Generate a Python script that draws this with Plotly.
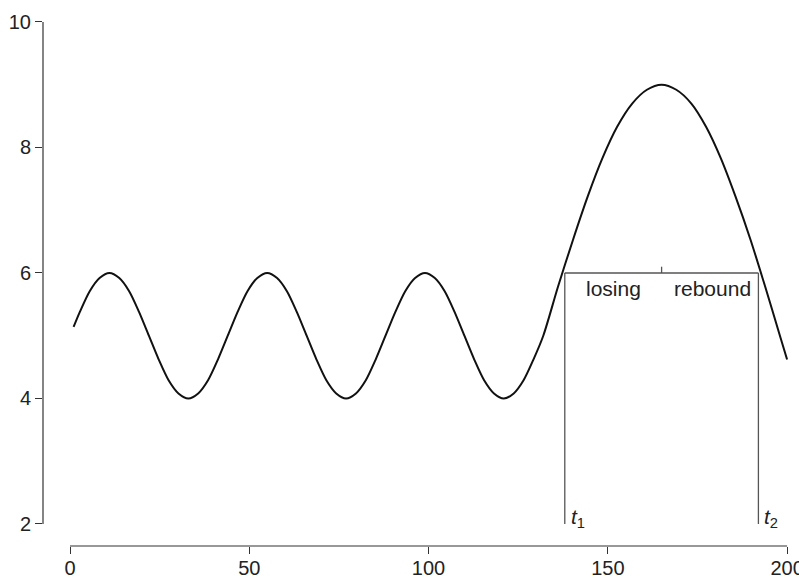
import plotly.graph_objects as go

# curve values
x_vals = [1, 2.75, 5.5, 8.25, 11, 13.75, 16.5, 19.25, 22, 24.75, 27.5, 30.25, 33, 35.75, 38.5, 41.25,
          44, 46.75, 49.5, 52.25, 55, 57.75, 60.5, 63.25, 66, 68.75, 71.5, 74.25, 77, 79.75, 82.5, 85.25,
          88, 90.75, 93.5, 96.25, 99, 101.75, 104.5, 107.25, 110, 112.75, 115.5, 118.25, 121, 123.75,
          126.5, 129.25, 132,
          136.1, 140.3, 144.4, 148.5, 152.6, 156.8, 160.9, 165, 169.1, 173.3, 177.4, 181.5, 185.6,
          189.8, 193.9, 198, 200]
y_vals = [5.14, 5.38, 5.71, 5.92, 6.00, 5.92, 5.71, 5.38, 5.00, 4.62, 4.29, 4.08, 4.00, 4.08, 4.29, 4.62,
          5.00, 5.38, 5.71, 5.92, 6.00, 5.92, 5.71, 5.38, 5.00, 4.62, 4.29, 4.08, 4.00, 4.08, 4.29, 4.62,
          5.00, 5.38, 5.71, 5.92, 6.00, 5.92, 5.71, 5.38, 5.00, 4.62, 4.29, 4.08, 4.00, 4.08,
          4.29, 4.62, 5.00,
          5.78, 6.53, 7.22, 7.83, 8.33, 8.70, 8.92, 9.00, 8.92, 8.70, 8.33, 7.83, 7.22,
          6.53, 5.78, 5.00, 4.62]

t1 = 138
t2 = 192
t_mid = 165
level = 6
y_base = 2
x_ticks = [0, 50, 100, 150, 200]
y_ticks = [2, 4, 6, 8, 10]

fig = go.Figure()
fig.add_trace(go.Scatter(x=x_vals, y=y_vals, mode="lines",
                         line=dict(color="#111111", width=2, shape="spline", smoothing=0.8),
                         showlegend=False, hoverinfo="skip"))

gray = "#555555"
# bracket
fig.add_shape(type="line", x0=t1, x1=t1, y0=y_base, y1=level, line=dict(color=gray, width=1.3))
fig.add_shape(type="line", x0=t2, x1=t2, y0=y_base, y1=level, line=dict(color=gray, width=1.3))
fig.add_shape(type="line", x0=t1, x1=t2, y0=level, y1=level, line=dict(color=gray, width=1.3))
fig.add_shape(type="line", x0=t_mid, x1=t_mid, y0=level, y1=level + 0.1, line=dict(color=gray, width=1.3))

# detached axes lines
fig.add_shape(type="line", xref="x", yref="paper", x0=x_ticks[0], x1=x_ticks[-1], y0=0, y1=0,
              line=dict(color="#333333", width=1.2))
fig.add_shape(type="line", xref="paper", yref="y", x0=0, x1=0, y0=y_ticks[0], y1=y_ticks[-1],
              line=dict(color="#333333", width=1.2))

font_txt = dict(family="Liberation Sans, Arial, sans-serif", size=21, color="#222222")
fig.add_annotation(x=(t1 + t_mid) / 2, y=5.75, text="losing", showarrow=False, font=font_txt)
fig.add_annotation(x=(t_mid + t2) / 2 + 0.8, y=5.75, text="rebound", showarrow=False, font=font_txt)
fig.add_annotation(x=t1, y=2.1, text="<i>t</i><sub>1</sub>", showarrow=False, xanchor="left",
                   xshift=4, font=font_txt)
fig.add_annotation(x=t2, y=2.1, text="<i>t</i><sub>2</sub>", showarrow=False, xanchor="left",
                   xshift=4, font=font_txt)

fig.update_layout(
    width=799, height=570,
    margin=dict(l=35, r=7, t=2, b=32),
    plot_bgcolor="white", paper_bgcolor="white",
    font=dict(family="Liberation Sans, Arial, sans-serif", size=20, color="#222222"),
    xaxis=dict(range=[-7.53, 203.6], tickvals=x_ticks, ticks="outside", ticklen=7,
               tickcolor="#333333", showgrid=False, zeroline=False, showline=False,
               automargin=False, tickfont=dict(size=20), ticklabelstandoff=-3),
    yaxis=dict(range=[1.649, 10.191], tickvals=y_ticks, ticks="outside", ticklen=7,
               tickcolor="#333333", showgrid=False, zeroline=False, showline=False,
               automargin=False, tickfont=dict(size=20)),
)

fig.write_html("out.html")
